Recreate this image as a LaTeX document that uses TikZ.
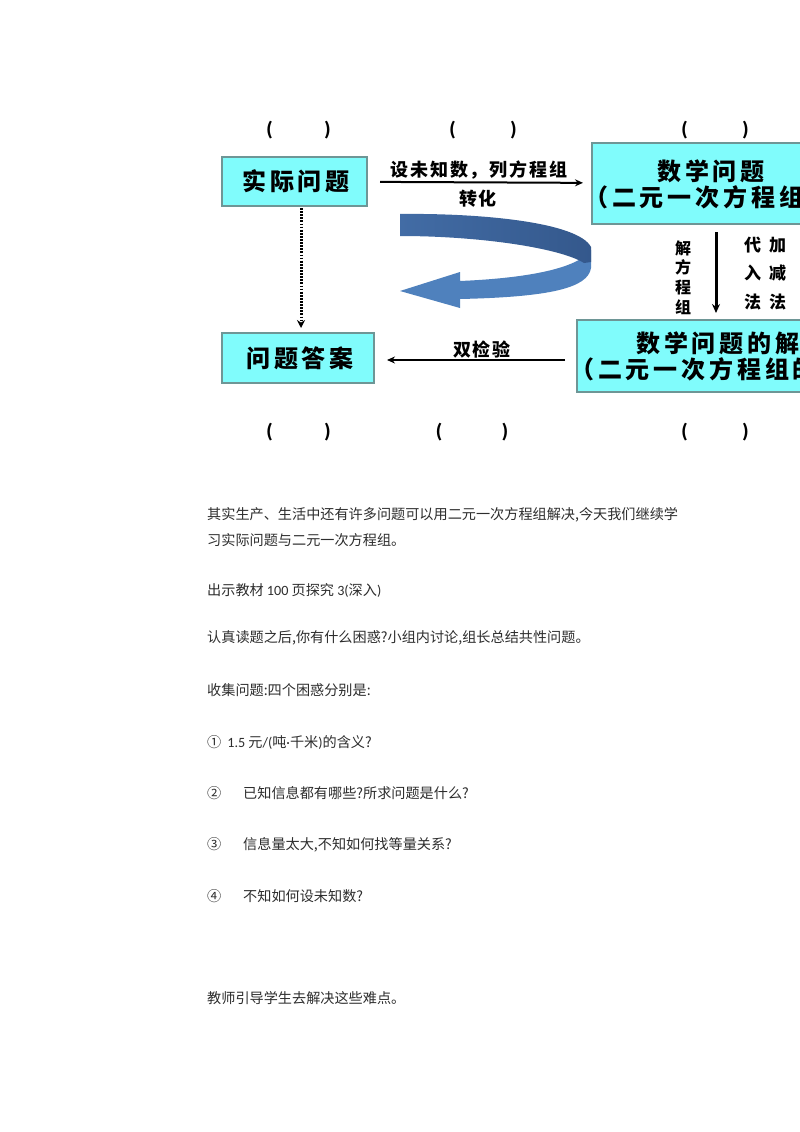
\documentclass[tikz,border=0pt]{standalone}
\usepackage{fontspec}
\setmainfont{Noto Sans CJK SC}
\newfontfamily\cjkb{Noto Sans CJK SC}[LetterSpace=16]
\newfontfamily\cjkl{Noto Sans CJK SC}[LetterSpace=10]
\newfontfamily\lat{Carlito}
\usetikzlibrary{arrows.meta}
\definecolor{boxfill}{RGB}{128,252,252}
\definecolor{boxline}{RGB}{110,150,150}
\definecolor{bandlight}{RGB}{79,129,189}
\definecolor{banddark}{RGB}{66,108,165}
\definecolor{banddarker}{RGB}{52,88,140}
\definecolor{bodytext}{RGB}{45,45,45}
\tikzset{
  box/.style={draw=boxline, fill=boxfill, line width=1.2pt, inner sep=0pt, outer sep=0pt},
  boxtxt/.style={inner sep=0pt, font=\cjkb\bfseries\fontsize{24}{28}\selectfont},
  lbl/.style={inner sep=0pt, font=\cjkl\bfseries\fontsize{18}{22}\selectfont},
  par/.style={inner sep=0pt, font=\bfseries\fontsize{17}{20}\selectfont},
  body/.style={inner sep=0pt, anchor=west, text=bodytext, font=\fontsize{14.15}{17}\selectfont},
  arr/.style={line width=2pt, -{Stealth[length=8pt,width=7pt]}},
  thickarr/.style={line width=3pt, -{Stealth[length=9pt,width=8pt]}},
  dotarr/.style={line width=3pt, dash pattern=on 1.8pt off 1.3pt, -{Stealth[length=8pt,width=8pt]}}
}
\begin{document}
\begin{tikzpicture}[x=1pt,y=-1pt]
\useasboundingbox (0,0) rectangle (800,1132);
\clip (0,0) rectangle (800,1132);
\fill[white] (0,0) rectangle (800,1132);

% parentheses
\node[par] (p1) at (298.5,130) {(\hspace{51pt})};
\node[par] (p2) at (483,130) {(\hspace{54pt})};
\node[par] (p3) at (715,130) {(\hspace{54pt})};
\node[par] (p4) at (298.5,432) {(\hspace{51pt})};
\node[par] (p5) at (472,432) {(\hspace{59pt})};
\node[par] (p6) at (715,432) {(\hspace{54pt})};

% boxes
\node[box, minimum width=145pt, minimum height=49pt] (b1) at (294.5,181.5) {};
\node[boxtxt] (t1) at (296,181.5) {实际问题};
\node[box, minimum width=258pt, minimum height=81pt] (b2) at (721,183.5) {};
\node[boxtxt] (t2a) at (711,171) {数学问题};
\node[boxtxt, anchor=west] (t2b) at (584,197) {（二元一次方程组）};
\node[box, minimum width=273pt, minimum height=72pt] (b3) at (713.5,356) {};
\node[boxtxt, anchor=west] (t3a) at (636,343) {数学问题的解};
\node[boxtxt, anchor=west] (t3b) at (570,369) {（二元一次方程组的解）};
\node[box, minimum width=152pt, minimum height=50pt] (b4) at (298,358) {};
\node[boxtxt] (t4) at (300,358) {问题答案};

% blue turning arrow
\fill[bandlight] (460,281) .. controls (530,278) and (578,268) .. (591,250)
  -- (591,268) .. controls (588,288) and (550,297) .. (460,299)
  -- (460,308) -- (400,291) -- (460,272) -- cycle;
\shade[left color=banddark, right color=banddarker]
  (400,214) .. controls (480,213) and (578,222) .. (591,247)
  -- (591,262) -- (584,263) .. controls (560,248) and (480,236) .. (400,236) -- cycle;

% connectors
\coordinate (ax) at (716,0);
\coordinate (dx) at (301,0);
\coordinate (ay) at (0,360);
\draw[arr, shorten <=13pt, shorten >=9pt] (b1) -- (b2);
\draw[thickarr, shorten <=8pt, shorten >=7pt] (b2.south -| ax) -- (b3.north -| ax);
\draw[dotarr, shorten <=2pt, shorten >=5pt] (b1.south -| dx) -- (b4.north -| dx);
\draw[arr, shorten <=12pt, shorten >=13pt] (b3.west |- ay) -- (b4.east |- ay);

% connector labels
\node[lbl] (l1) at (479,170) {设未知数，列方程组};
\node[lbl] (l2) at (478,199) {转化};
\node[lbl] (l5) at (482,350) {双检验};
\node[inner sep=0pt, align=center, font=\bfseries\fontsize{16}{19.7}\selectfont] (l3) at (683,277.5) {解\\方\\程\\组};
\node[inner sep=0pt, anchor=west, align=left, font=\bfseries\fontsize{17}{28.5}\selectfont] (l4) at (744,273.5) {代\hspace{8pt}加\\入\hspace{8pt}减\\法\hspace{8pt}法};

% body text
\node[body] (s1) at (207,515) {其实生产、生活中还有许多问题可以用二元一次方程组解决,今天我们继续学};
\node[body] (s2) at (207,540) {习实际问题与二元一次方程组。};
\node[body] (s3) at (207,590) {出示教材 {\lat 100} 页探究 {\lat 3(}深入{\lat )}};
\node[body] (s4) at (207,638) {认真读题之后,你有什么困惑?小组内讨论,组长总结共性问题。};
\node[body] (s5) at (207,690) {收集问题:四个困惑分别是:};
\node[body] (s6) at (207,742) {①\hspace{6pt}{\lat 1.5} 元{\lat /(}吨{\lat ·}千米{\lat )}的含义?};
\node[body] (s7) at (207,793) {\makebox[36pt][l]{②}已知信息都有哪些?所求问题是什么?};
\node[body] (s8) at (207,845) {\makebox[36pt][l]{③}信息量太大,不知如何找等量关系?};
\node[body] (s9) at (207,896) {\makebox[36pt][l]{④}不知如何设未知数?};
\node[body] (s10) at (207,998) {教师引导学生去解决这些难点。};
\end{tikzpicture}
\end{document}
